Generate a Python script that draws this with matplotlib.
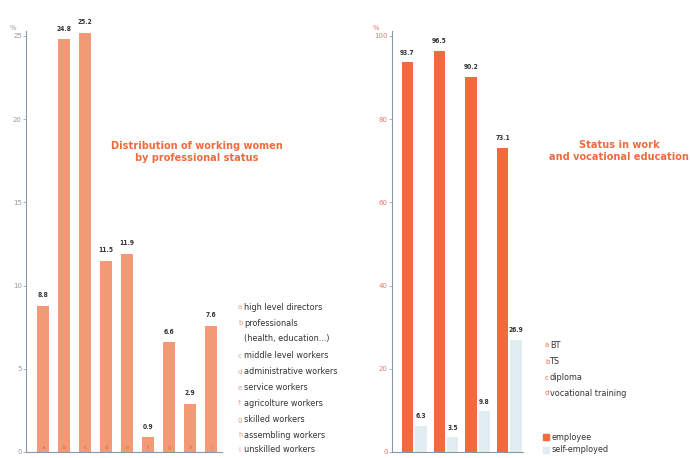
import matplotlib.pyplot as plt
import numpy as np

# left panel: women by professional status (%)
prof_letters = ['a', 'b', 'c', 'd', 'e', 'f', 'g', 'h', 'i']
prof_values = [8.8, 24.8, 25.2, 11.5, 11.9, 0.9, 6.6, 2.9, 7.6]
prof_names = ['high level directors', 'professionals', '(health, education...)',
              'middle level workers', 'administrative workers', 'service workers',
              'agricolture workers', 'skilled workers', 'assembling workers',
              'unskilled workers']

# right panel: status in work by vocational education (%)
edu_letters = ['a', 'b', 'c', 'd']
edu_names = ['BT', 'TS', 'diploma', 'vocational training']
employee = [93.7, 96.5, 90.2, 73.1]
self_employed = [6.3, 3.5, 9.8, 26.9]

narrow = ['DejaVu Sans']
orange = '#f06a3c'
salmon = '#f29a76'
pale_blue = '#e2edf1'
axis_col = '#8a97a8'

W, H = 690, 458
fig = plt.figure(figsize=(W / 100, H / 100), dpi=100)


def box(x0, y0, x1, y1):
    # pixel box (from top-left) -> figure fraction
    return [x0 / W, 1 - y1 / H, (x1 - x0) / W, (y1 - y0) / H]


def style(ax, tick_col):
    for s in ['top', 'right']:
        ax.spines[s].set_visible(False)
    ax.spines['left'].set_color(axis_col)
    ax.spines['bottom'].set_color(axis_col)
    ax.spines['left'].set_linewidth(0.8)
    ax.spines['bottom'].set_linewidth(0.8)
    ax.set_xticks([])
    ax.tick_params(axis='y', length=2, width=0.5, color=axis_col, pad=1,
                   labelsize=5, labelcolor=tick_col)


# ---- left chart ----
ax1 = fig.add_axes(box(26, 31, 222, 452))
x1 = np.arange(len(prof_values))
ax1.bar(x1, prof_values, width=0.58, color=salmon, zorder=2)
ax1.set_xlim(-0.81, 8.52)
ax1.set_ylim(0, 25.3)
ax1.set_yticks([0, 5, 10, 15, 20, 25])
style(ax1, '#9a9a9a')
ax1.text(-0.05, 1.0, '%', transform=ax1.transAxes, fontsize=5, color='#9a9a9a',
         ha='right', va='bottom', family=narrow)
for xi, v, l in zip(x1, prof_values, prof_letters):
    ax1.text(xi, v + 0.45, f'{v:.1f}', ha='center', va='bottom', fontsize=4.8,
             fontweight='bold', color='#333333', family=narrow, stretch='condensed')
    ax1.text(xi, 0.15, l, ha='center', va='bottom', fontsize=4,
             color='#e0683e', family=narrow)

fig.text(197 / W, 1 - 152 / H, 'Distribution of working women\nby professional status',
         ha='center', va='center', fontsize=7.8, fontweight='bold', color=orange,
         family=narrow, stretch='condensed', linespacing=1.15)

# left legend
leg_y = [307, 323, 338, 356, 372, 388, 403, 420, 435, 450]
leg_l = ['a', 'b', '', 'c', 'd', 'e', 'f', 'g', 'h', 'i']
for y, l, name in zip(leg_y, leg_l, prof_names):
    fig.text(238 / W, 1 - y / H, l, ha='left', va='center', fontsize=5,
             color=salmon, family=narrow)
    fig.text(244 / W, 1 - y / H, name, ha='left', va='center', fontsize=6.5,
             color='#333333', family=narrow, stretch='condensed')

# ---- right chart ----
ax2 = fig.add_axes(box(392, 31, 523, 452))
x2 = np.arange(len(employee))
ax2.bar(x2, employee, width=0.36, color=orange, zorder=2)
ax2.bar(x2 + 0.42, self_employed, width=0.36, color=pale_blue, zorder=2)
ax2.set_xlim(-0.49, 3.64)
ax2.set_ylim(0, 101.2)
ax2.set_yticks([0, 20, 40, 60, 80, 100])
style(ax2, '#e8776a')
ax2.text(-0.1, 1.0, '%', transform=ax2.transAxes, fontsize=5, color='#e8776a',
         ha='right', va='bottom', family=narrow)
for xi, v in zip(x2, employee):
    ax2.text(xi, v + 1.6, f'{v:.1f}', ha='center', va='bottom', fontsize=4.8,
             fontweight='bold', color='#333333', family=narrow, stretch='condensed')
for xi, v in zip(x2, self_employed):
    ax2.text(xi + 0.42, v + 1.6, f'{v:.1f}', ha='center', va='bottom', fontsize=4.8,
             fontweight='bold', color='#333333', family=narrow, stretch='condensed')

fig.text(619 / W, 1 - 151 / H, 'Status in work\nand vocational education',
         ha='center', va='center', fontsize=7.8, fontweight='bold', color=orange,
         family=narrow, stretch='condensed', linespacing=1.15)

# right legend
for y, l, name in zip([345, 362, 378, 393], edu_letters, edu_names):
    fig.text(545 / W, 1 - y / H, l, ha='left', va='center', fontsize=5,
             color=orange, family=narrow)
    fig.text(550 / W, 1 - y / H, name, ha='left', va='center', fontsize=6.5,
             color='#333333', family=narrow, stretch='condensed')
for y, c, name in [(437, orange, 'employee'), (450, pale_blue, 'self-employed')]:
    fig.patches.append(plt.Rectangle((543 / W, 1 - (y + 3) / H), 6 / W, 6 / H,
                                     transform=fig.transFigure, color=c))
    fig.text(552 / W, 1 - y / H, name, ha='left', va='center', fontsize=6.5,
             color='#333333', family=narrow, stretch='condensed')

fig.savefig('out.png', dpi=100)
